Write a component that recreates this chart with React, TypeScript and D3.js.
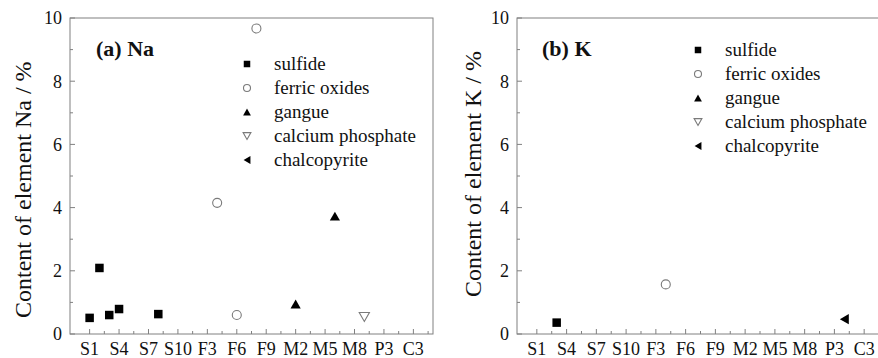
import React from "react";
import * as d3 from "d3";

const categories = [
  "S1","S2","S3","S4","S5","S6","S7","S8","S9","S10",
  "F1","F2","F3","F4","F5","F6","F7","F8","F9","F10",
  "M1","M2","M3","M4","M5","M6","M7","M8",
  "P1","P2","P3",
  "C1","C2","C3",
];
const tickLabels = ["S1","S4","S7","S10","F3","F6","F9","M2","M5","M8","P3","C3"];
const yTicks = [0, 2, 4, 6, 8, 10];
const yMinorTicks = [1, 3, 5, 7, 9];

const seriesNames = ["sulfide", "ferric oxides", "gangue", "calcium phosphate", "chalcopyrite"];

// Na panel
const naSulfideCat = ["S1", "S2", "S3", "S4", "S8"];
const naSulfideVal = [0.51, 2.09, 0.6, 0.79, 0.63];
const naFerricCat = ["F4", "F6", "F8"];
const naFerricVal = [4.15, 0.6, 9.67];
const naGangueCat = ["M2", "M6"];
const naGangueVal = [0.95, 3.73];
const naCaPCat = ["P1"];
const naCaPVal = [0.54];
const naChalcoCat: string[] = [];
const naChalcoVal: number[] = [];

// K panel
const kSulfideCat = ["S3"];
const kSulfideVal = [0.36];
const kFerricCat = ["F4"];
const kFerricVal = [1.57];
const kGangueCat: string[] = [];
const kGangueVal: number[] = [];
const kCaPCat: string[] = [];
const kCaPVal: number[] = [];
const kChalcoCat = ["C1"];
const kChalcoVal = [0.47];

const FONT = '"Liberation Serif", "Times New Roman", Tinos, Times, "DejaVu Serif", serif';
const TEXT = "#111";
const FRAME = "#808080";
const OPEN = "#7a7a7a";

type Marker = "square" | "circle" | "triUp" | "triDown" | "triLeft";
const markers: Marker[] = ["square", "circle", "triUp", "triDown", "triLeft"];

function markerEl(kind: Marker, cx: number, cy: number, s: number, key: string) {
  if (kind === "square") {
    return <rect key={key} x={cx - s / 2} y={cy - s / 2} width={s} height={s} fill="#000" />;
  }
  if (kind === "circle") {
    return <circle key={key} cx={cx} cy={cy} r={s / 2} fill="#fff" stroke={OPEN} strokeWidth={1.1} />;
  }
  const w = s * 1.2;
  const h = s * 1.05;
  const p = d3.path();
  if (kind === "triUp") {
    p.moveTo(cx, cy - h / 2); p.lineTo(cx + w / 2, cy + h / 2); p.lineTo(cx - w / 2, cy + h / 2); p.closePath();
    return <path key={key} d={p.toString()} fill="#000" />;
  }
  if (kind === "triDown") {
    p.moveTo(cx, cy + h / 2); p.lineTo(cx + w / 2, cy - h / 2); p.lineTo(cx - w / 2, cy - h / 2); p.closePath();
    return <path key={key} d={p.toString()} fill="#fff" stroke={OPEN} strokeWidth={1.1} />;
  }
  p.moveTo(cx - h / 2, cy); p.lineTo(cx + h / 2, cy - w / 2); p.lineTo(cx + h / 2, cy + w / 2); p.closePath();
  return <path key={key} d={p.toString()} fill="#000" />;
}

interface PanelProps {
  x0: number; x1: number; y0: number; y1: number;
  title: string; titleX: number; titleY: number;
  yLabel: string; yLabelX: number; yLabelBottom: number;
  legendX: number; legendY: number;
  data: [string[], number[]][];
}

const txt = (size: number, bold = false): React.CSSProperties => ({
  fontFamily: FONT,
  fontSize: size + "px",
  fontWeight: bold ? 700 : 400,
  fill: TEXT,
});

function Panel(p: PanelProps) {
  const idx = (c: string) => categories.indexOf(c);
  const x = d3.scaleLinear().domain([-2, 35]).range([p.x0, p.x1]);
  const y = d3.scaleLinear().domain([0, 10]).range([p.y1, p.y0]);
  const majorX = tickLabels.map((t) => idx(t));
  const minorX = d3.range(1.5, 35, 3);
  const legendStep = 24;
  return (
    <g>
      <rect x={p.x0} y={p.y0} width={p.x1 - p.x0} height={p.y1 - p.y0} fill="none" stroke={FRAME} strokeWidth={1} />
      {yTicks.map((t) => (
        <g key={"yt" + t}>
          <line x1={p.x0} x2={p.x0 + 5} y1={y(t)} y2={y(t)} stroke={FRAME} />
          <text x={p.x0 - 8} y={y(t)} dy="0.35em" textAnchor="end" style={txt(18)}>{t}</text>
        </g>
      ))}
      {yMinorTicks.map((t) => (
        <line key={"ym" + t} x1={p.x0} x2={p.x0 + 3} y1={y(t)} y2={y(t)} stroke={FRAME} />
      ))}
      {majorX.map((v, i) => (
        <g key={"xt" + i}>
          <line x1={x(v)} x2={x(v)} y1={p.y1} y2={p.y1 - 5} stroke={FRAME} />
          <text x={x(v)} y={355} textAnchor="middle" style={txt(18)}>{tickLabels[i]}</text>
        </g>
      ))}
      {minorX.map((v, i) => (
        <line key={"xm" + i} x1={x(v)} x2={x(v)} y1={p.y1} y2={p.y1 - 3} stroke={FRAME} />
      ))}
      <text transform={`translate(${p.yLabelX},${p.yLabelBottom}) rotate(-90)`} textAnchor="start" style={txt(24)}>{p.yLabel}</text>
      <text x={p.titleX} y={p.titleY} style={txt(22, true)}>{p.title}</text>
      {seriesNames.map((n, i) => (
        <g key={"lg" + i}>
          {markerEl(markers[i], p.legendX, p.legendY + i * legendStep, markers[i] === "circle" ? 7 : 6.5, "lm" + i)}
          <text x={p.legendX + 27} y={p.legendY + i * legendStep + 6} style={txt(19)}>{n}</text>
        </g>
      ))}
      {p.data.map(([cats, vals], si) =>
        cats.map((c, j) => markerEl(markers[si], x(idx(c)), y(vals[j]), markers[si] === "circle" ? 9 : 8.5, `d${si}-${j}`))
      )}
    </g>
  );
}

export default function App() {
  return (
    <svg width={878} height={358} style={{ display: "block", position: "absolute", left: 0, top: 0, background: "#fff" }}>
      <rect width={878} height={358} fill="#fff" />
      <Panel
        x0={70} x1={433} y0={18} y1={334}
        title="(a) Na" titleX={96} titleY={56}
        yLabel="Content of element Na / %" yLabelX={31} yLabelBottom={318}
        legendX={247} legendY={64}
        data={[
          [naSulfideCat, naSulfideVal],
          [naFerricCat, naFerricVal],
          [naGangueCat, naGangueVal],
          [naCaPCat, naCaPVal],
          [naChalcoCat, naChalcoVal],
        ]}
      />
      <Panel
        x0={517} x1={884} y0={18} y1={334}
        title="(b) K" titleX={542} titleY={56}
        yLabel="Content of element K / %" yLabelX={481} yLabelBottom={297}
        legendX={698} legendY={50}
        data={[
          [kSulfideCat, kSulfideVal],
          [kFerricCat, kFerricVal],
          [kGangueCat, kGangueVal],
          [kCaPCat, kCaPVal],
          [kChalcoCat, kChalcoVal],
        ]}
      />
    </svg>
  );
}
